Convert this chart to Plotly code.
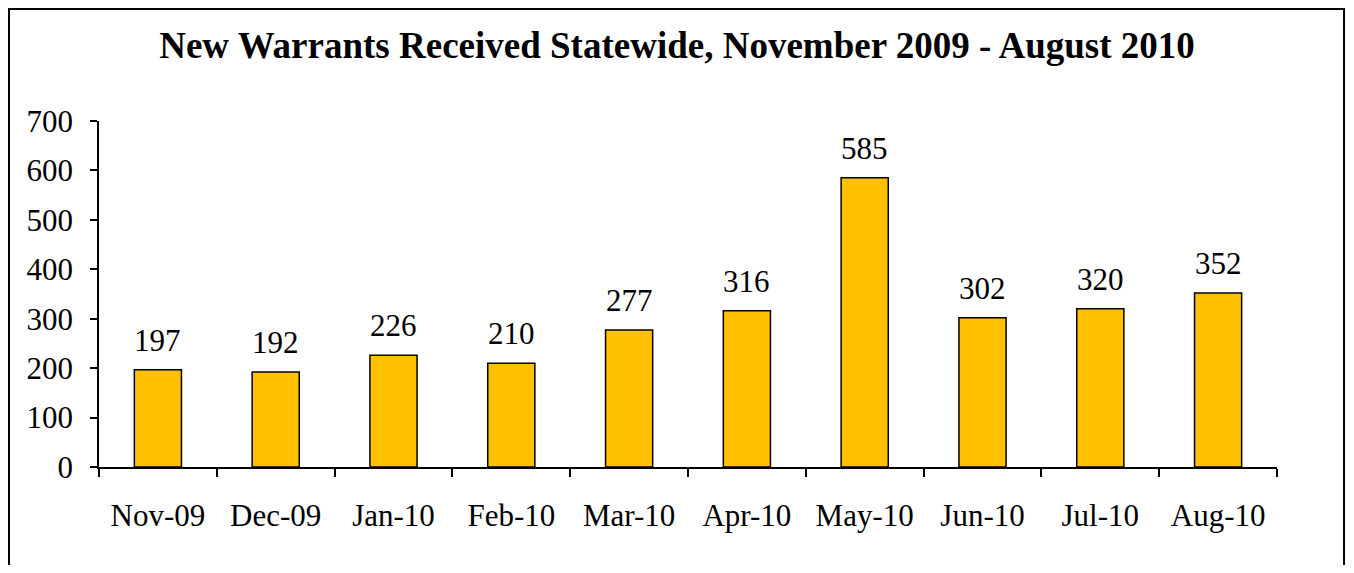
import plotly.graph_objects as go

months = ["Nov-09", "Dec-09", "Jan-10", "Feb-10", "Mar-10",
          "Apr-10", "May-10", "Jun-10", "Jul-10", "Aug-10"]
warrants = [197, 192, 226, 210, 277, 316, 585, 302, 320, 352]
y_ticks = [0, 100, 200, 300, 400, 500, 600, 700]

serif = "Liberation Serif, Times New Roman, serif"

fig = go.Figure(
    go.Bar(
        x=months,
        y=warrants,
        marker=dict(color="#FFC000", line=dict(color="black", width=1.5)),
        cliponaxis=False,
    )
)

# value labels above the bars
for m, v in zip(months, warrants):
    fig.add_annotation(
        x=m, y=v, text=str(v), showarrow=False,
        yanchor="bottom", yshift=10,
        font=dict(family=serif, size=31, color="black"),
    )

# page has an 8px body margin, so the figure is sized to fit inside it
fig.update_layout(
    width=1338,
    height=557,
    paper_bgcolor="white",
    plot_bgcolor="white",
    margin=dict(l=91, r=69, t=113, b=98),
    bargap=0.6,
    showlegend=False,
    title=dict(
        text="<b>New Warrants Received Statewide, November 2009 - August 2010</b>",
        x=0.5,
        xref="container",
        y=0.934,
        yanchor="middle",
        font=dict(family=serif, size=37, color="black"),
    ),
    font=dict(family=serif, size=31, color="black"),
)

fig.update_xaxes(
    showline=True,
    linecolor="black",
    linewidth=1.5,
    ticks="outside",
    tickson="boundaries",
    ticklen=8,
    tickcolor="black",
    tickwidth=1.5,
    tickfont=dict(family=serif, size=31),
    ticklabelstandoff=20,
)
fig.update_yaxes(
    range=[0, 700],
    tickvals=y_ticks,
    showline=True,
    linecolor="black",
    linewidth=1.5,
    ticks="outside",
    ticklen=7,
    tickcolor="black",
    tickwidth=1.5,
    showgrid=False,
    zeroline=False,
    tickfont=dict(family=serif, size=31),
    ticklabelstandoff=11,
)

# outer chart border
fig.add_shape(
    type="rect",
    xref="paper", yref="paper",
    x0=-0.0764, x1=1.0569, y0=-0.35, y1=1.3237,
    line=dict(color="black", width=2),
    fillcolor="rgba(0,0,0,0)",
    layer="below",
)

fig.write_html("out.html")
